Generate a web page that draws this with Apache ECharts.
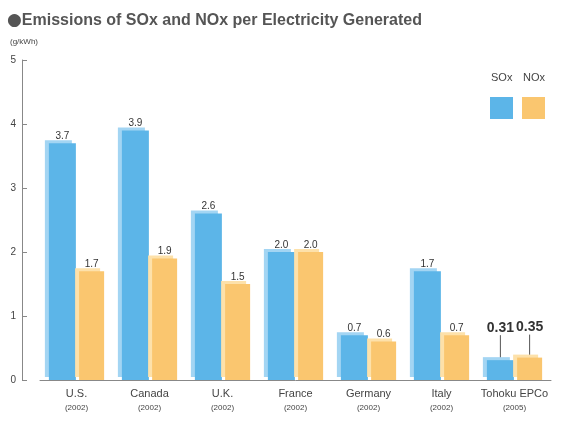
<!DOCTYPE html>
<html>
<head>
<meta charset="utf-8">
<script src="https://cdn.jsdelivr.net/npm/echarts@6/dist/echarts.min.js"></script>
<style>
  body { margin: 0; padding: 0; background: #fff; }
  #chart { width: 568px; height: 421px; }
</style>
</head>
<body>
<div id="chart"></div>
<script>
const countries = ['U.S.', 'Canada', 'U.K.', 'France', 'Germany', 'Italy', 'Tohoku EPCo'];
const years = ['2002', '2002', '2002', '2002', '2002', '2002', '2005'];
const seriesNames = ['SOx', 'NOx'];
const soxValues = [3.7, 3.9, 2.6, 2.0, 0.7, 1.7, 0.31];
const noxValues = [1.7, 1.9, 1.5, 2.0, 0.6, 0.7, 0.35];
const yTicks = [0, 1, 2, 3, 4, 5];

const colors = ['#5cb5e8', '#fac66f'];
const shades = ['#a3d5f3', '#fde1aa'];
const highlight = countries.length - 1;
const font = 'Liberation Sans, Arial, sans-serif';

function fmt(v) {
  return v < 1 && v * 10 % 1 !== 0 ? v.toFixed(2) : v.toFixed(1);
}

function buildSeries(name, values, i) {
  return {
    name,
    type: 'bar',
    barWidth: i === 0 ? 27 : 25,
    barGap: '12%',
    data: values.map((v, k) => k === highlight ? {
      value: v,
      label: { fontSize: 14, fontWeight: 'bold', color: '#333' },
      labelLine: { show: true, lineStyle: { color: '#555', width: 1 } }
    } : v),
    itemStyle: {
      color: colors[i],
      shadowColor: shades[i],
      shadowBlur: 0,
      shadowOffsetX: -4,
      shadowOffsetY: -3
    },
    label: {
      show: true,
      position: 'top',
      distance: 2,
      fontSize: 10,
      color: '#333',
      formatter: p => fmt(p.value)
    },
    labelLayout: p => p.dataIndex === highlight ? { dy: i === 0 ? -23 : -21 } : {}
  };
}

const chart = echarts.init(document.getElementById('chart'));
chart.setOption({
  animation: false,
  textStyle: { fontFamily: font },
  title: {
    text: '{b|●}Emissions of SOx and NOx per Electricity Generated',
    left: 2,
    top: 7,
    textStyle: {
      fontSize: 16, fontWeight: 'bold', color: '#555', fontFamily: font,
      rich: { b: { fontSize: 17, fontFamily: 'DejaVu Sans', color: '#555' } }
    }
  },
  graphic: [
    { type: 'text', left: 10, top: 38, style: { text: '(g/kWh)', fontSize: 8, fill: '#444' } },
    ...seriesNames.map((n, i) => ({
      type: 'text', left: 491 + i * 32, top: 72,
      style: { text: n, fontSize: 11, fill: '#444' }
    }))
  ],
  legend: {
    data: seriesNames,
    right: 18,
    top: 92,
    icon: 'rect',
    itemWidth: 23,
    itemHeight: 22,
    itemGap: 9,
    formatter: () => '',
    textStyle: { padding: 0, fontSize: 1 }
  },
  grid: { left: 40, right: 17, top: 60, bottom: 41 },
  xAxis: {
    type: 'category',
    data: countries,
    axisTick: { show: false },
    axisLine: { lineStyle: { color: '#888' } },
    axisLabel: {
      interval: 0,
      margin: 6,
      formatter: (v, i) => '{n|' + v + '}\n{y|(' + years[i] + ')}',
      rich: {
        n: { fontSize: 11, color: '#444', lineHeight: 16 },
        y: { fontSize: 8, color: '#444', lineHeight: 12 }
      }
    }
  },
  yAxis: {
    type: 'value',
    min: yTicks[0],
    max: yTicks[yTicks.length - 1],
    interval: 1,
    offset: 18,
    axisLine: { show: true, lineStyle: { color: '#888' } },
    axisTick: { show: true, inside: true, length: 5, lineStyle: { color: '#888' } },
    splitLine: { show: false },
    axisLabel: { fontSize: 10, color: '#444', margin: 6 }
  },
  series: [buildSeries(seriesNames[0], soxValues, 0), buildSeries(seriesNames[1], noxValues, 1)]
});
</script>
</body>
</html>
